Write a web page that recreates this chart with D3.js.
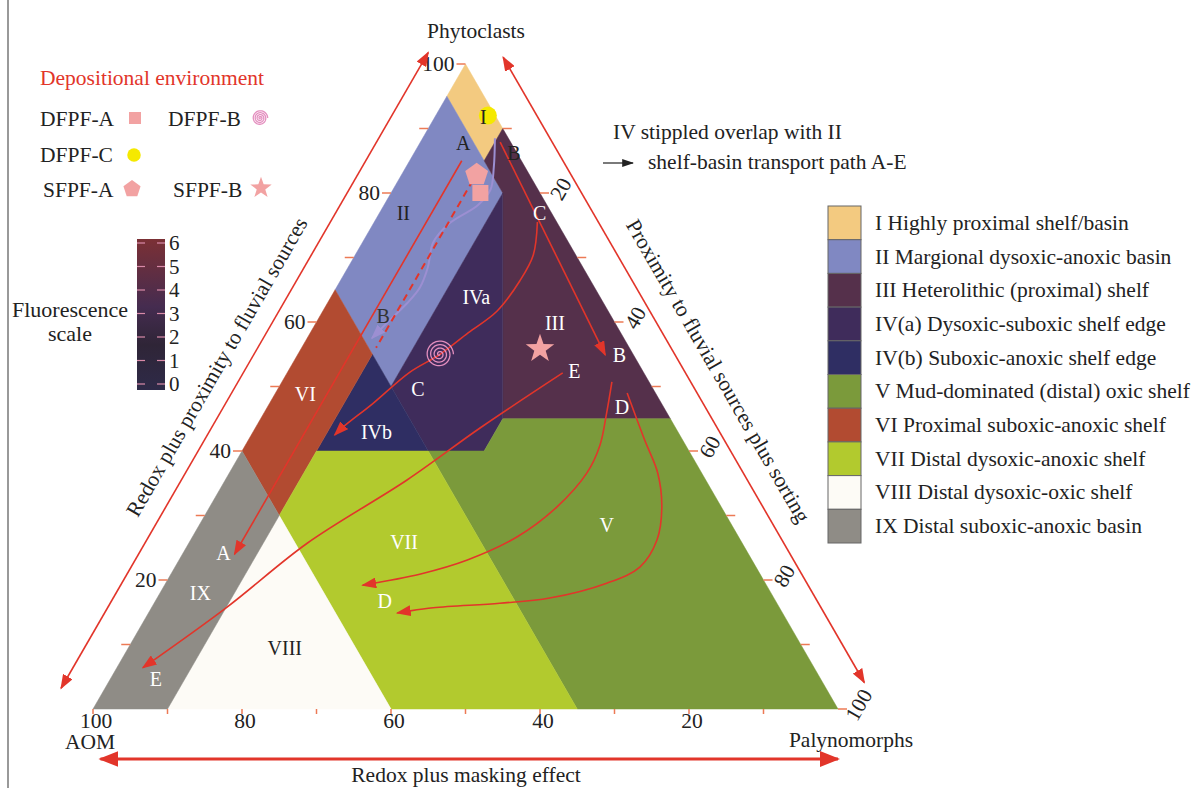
<!DOCTYPE html>
<html>
<head>
<meta charset="utf-8">
<script src="https://cdn.jsdelivr.net/npm/d3@7"></script>
<style>
body { margin: 0; background: #fff; }
svg text { font-family: "Liberation Serif", "Times New Roman", serif; }
</style>
</head>
<body>
<svg id="chart" width="1202" height="788"></svg>
<script>
// every ternary point is [AOM, Phytoclasts, Palynomorphs] in %
const zoneIds = ["I", "II", "III", "IVa", "IVb", "V", "VI", "VII", "VIII", "IX"];
const zoneColors = ["#f3ca80", "#8088c2", "#55304b", "#3f2c5b", "#2f2e63", "#7b9a3b", "#b24b31", "#b2ca2e", "#fdfbf6", "#8f8c86"];
const zonePolys = [
    [[0, 100, 0], [5, 95, 0], [5, 85, 10], [0, 90, 10]],
    [[5, 95, 0], [35, 65, 0], [35, 50, 15], [5, 80, 15]],
    [[0, 90, 10], [5, 85, 10], [5, 80, 15], [22.5, 45, 32.5], [0, 45, 55]],
    [[5, 80, 15], [35, 50, 15], [35, 40, 25], [27.5, 40, 32.5], [22.5, 45, 32.5]],
    [[35, 55, 10], [50, 40, 10], [35, 40, 25]],
    [[35, 40, 25], [27.5, 40, 32.5], [22.5, 45, 32.5], [0, 45, 55], [0, 0, 100], [35, 0, 65]],
    [[35, 65, 0], [60, 40, 0], [60, 30, 10], [35, 55, 10]],
    [[60, 30, 10], [50, 40, 10], [35, 40, 25], [35, 0, 65], [60, 0, 40]],
    [[60, 30, 10], [90, 0, 10], [60, 0, 40]],
    [[60, 40, 0], [100, 0, 0], [90, 0, 10], [60, 30, 10]]
];
const zoneLegend = [
    "I Highly proximal shelf/basin",
    "II Margional dysoxic-anoxic basin",
    "III Heterolithic (proximal) shelf",
    "IV(a) Dysoxic-suboxic shelf edge",
    "IV(b) Suboxic-anoxic shelf edge",
    "V Mud-dominated (distal) oxic shelf",
    "VI Proximal suboxic-anoxic shelf",
    "VII Distal dysoxic-anoxic shelf",
    "VIII Distal dysoxic-oxic shelf",
    "IX Distal suboxic-anoxic basin"
];

// in-field labels
const fieldLabels = [
    {t: "I", p: [1.8, 91.8, 6.5], c: "#222"},
    {t: "A", p: [6.5, 87.8, 5.8], c: "#222"},
    {t: "B", p: [0.4, 86.2, 13.4], c: "#222"},
    {t: "II", p: [19.9, 76.9, 3.2], c: "#222"},
    {t: "C", p: [1.6, 76.9, 21.5], c: "#fff"},
    {t: "IVa", p: [16.7, 63.9, 19.5], c: "#fff"},
    {t: "III", p: [8.1, 59.8, 32.1], c: "#fff"},
    {t: "B", p: [30.6, 60.9, 8.5], c: "#333"},
    {t: "B", p: [1.9, 54.9, 43.2], c: "#fff"},
    {t: "E", p: [9.2, 52.4, 38.4], c: "#fff"},
    {t: "D", p: [5.6, 46.8, 47.6], c: "#fff"},
    {t: "VI", p: [47.1, 48.8, 4.1], c: "#fff"},
    {t: "C", p: [31.6, 49.6, 18.8], c: "#fff"},
    {t: "IVb", p: [40.5, 42.9, 16.6], c: "#fff"},
    {t: "VII", p: [45.3, 25.9, 28.8], c: "#fff"},
    {t: "V", p: [16.7, 28.5, 54.7], c: "#fff"},
    {t: "A", p: [70.5, 24.2, 5.4], c: "#fff"},
    {t: "IX", p: [76.6, 18.0, 5.4], c: "#fff"},
    {t: "D", p: [52.5, 16.7, 30.8], c: "#fff"},
    {t: "VIII", p: [69.5, 9.5, 21.0], c: "#222"},
    {t: "E", p: [89.2, 4.7, 6.1], c: "#fff"}
];

// samples
const sampleNames = ["DFPF-A", "DFPF-B", "DFPF-C", "SFPF-A", "SFPF-B"];
const sampleShapes = ["square", "spiral", "circle", "pentagon", "star"];
const samplePos = [[8, 80, 12], [26, 55, 19], [1, 92, 7], [7, 83, 10], [12, 56, 32]];

// shelf-basin transport paths
const pathA = [[8, 85, 7], [69, 24, 7]];
const pathBdash = [[8, 82, 10], [34, 56, 10]];
const pathBlav = [[1.8, 88.5, 9.7], [4.2, 84.0, 11.8], [6.5, 80.5, 13.1], [9.3, 78.1, 12.6], [14.4, 75.3, 10.2],
    [18.2, 72.3, 9.5], [20.8, 68.5, 10.7], [23.4, 65.4, 11.2], [26.4, 62.9, 10.7], [30, 60.3, 9.7], [33.8, 57.5, 8.7]];
const pathB = [[1.4, 87.9, 10.7], [3.8, 54.9, 41.3]];
const pathC = [[2.6, 75.5, 21.9], [5.7, 70.4, 23.9], [9.5, 66.4, 24.1], [14.9, 61.7, 23.4], [20.5, 58.3, 21.2],
    [25.9, 55.0, 19.1], [31.3, 52.2, 16.4], [38.7, 47.4, 13.9], [44.6, 43.7, 11.7], [46.3, 42.5, 11.2]];
const pathD1 = [[5.0, 50.7, 44.3], [8.3, 45.6, 46.1], [11.5, 40.9, 47.6], [15.4, 36.6, 48.0], [22.1, 31.3, 46.6],
    [29.8, 26.7, 43.6], [38.2, 23.1, 38.7], [45.6, 20.9, 33.4], [54.1, 19.2, 26.6]];
const pathD2 = [[3.8, 49.0, 47.2], [5.1, 41.7, 53.2], [5.9, 36.6, 57.5], [8.0, 31.3, 60.7], [11.2, 26.2, 62.6],
    [15.6, 22.0, 62.4], [21.2, 19.5, 59.2], [30.0, 17.2, 52.7], [37.1, 16.4, 46.4], [46.5, 15.7, 37.8], [51.7, 14.9, 33.4]];
const pathE = [[10.9, 52.1, 37.0], [26.3, 43.6, 30.2], [40.1, 35.5, 24.4], [58.4, 25.7, 15.9], [74.1, 15.8, 10.1], [90.1, 6.4, 3.5]];

const tickValues = [10, 20, 30, 40, 50, 60, 70, 80, 90, 100];
const tickLabels = [20, 40, 60, 80, 100];
const fluoTicks = [0, 1, 2, 3, 4, 5, 6];

const red = "#e2352a";
const tickCol = "#ec7a55";
const pink = "#f2a2a2";
const fs = 21.5;

const svg = d3.select("#chart");
const xS = d3.scaleLinear().domain([0, 100]).range([93, 838]);
const yS = d3.scaleLinear().domain([0, 100]).range([709, 64]);
const pt = d => [xS(d[2] + d[1] / 2), yS(d[1])];

// markers
let defs = svg.append("defs");
function head(id, color, len, wid) {
    defs.append("marker").attr("id", id).attr("markerUnits", "userSpaceOnUse")
        .attr("viewBox", "0 0 10 10").attr("refX", 9).attr("refY", 5)
        .attr("markerWidth", len).attr("markerHeight", wid)
        .attr("orient", "auto-start-reverse").attr("preserveAspectRatio", "none")
        .append("path").attr("d", "M0,0 L10,5 L0,10 z").attr("fill", color);
}
head("rh", red, 15, 11);
head("lh", "#9c8fd2", 15, 11);
head("bh", red, 20, 16);
head("kh", "#222", 12, 8);

let grad = defs.append("linearGradient").attr("id", "fluo").attr("x1", 0).attr("y1", 1).attr("x2", 0).attr("y2", 0);
grad.append("stop").attr("offset", "0%").attr("stop-color", "#2e2a48");
grad.append("stop").attr("offset", "30%").attr("stop-color", "#2f2537");
grad.append("stop").attr("offset", "55%").attr("stop-color", "#452c50");
grad.append("stop").attr("offset", "100%").attr("stop-color", "#7b3035");

// frame
svg.append("line").attr("x1", 8).attr("x2", 8).attr("y1", 0).attr("y2", 788).attr("stroke", "#777").attr("stroke-width", 1.5);

// zones
svg.append("g").selectAll("path").data(zonePolys).join("path")
    .attr("d", d => "M" + d.map(pt).join("L") + "Z")
    .attr("fill", (d, i) => zoneColors[i])
    .attr("stroke", (d, i) => zoneColors[i]).attr("stroke-width", 0.5);

// axis ticks
let ax = svg.append("g");
tickValues.forEach(v => {
    let l = pt([100 - v, v, 0]);
    ax.append("line").attr("x1", l[0] - 9).attr("x2", l[0]).attr("y1", l[1]).attr("y2", l[1]).attr("stroke", tickCol).attr("stroke-width", 1.5);
    let b = pt([v, 0, 100 - v]);
    ax.append("line").attr("x1", b[0]).attr("x2", b[0]).attr("y1", b[1]).attr("y2", b[1] + 5).attr("stroke", tickCol).attr("stroke-width", 1.5);
    let r = pt([0, 100 - v, v]);
    ax.append("line").attr("x1", r[0]).attr("x2", r[0] + 9).attr("y1", r[1]).attr("y2", r[1]).attr("stroke", tickCol).attr("stroke-width", 1.5);
});
tickLabels.forEach(v => {
    let l = pt([100 - v, v, 0]);
    ax.append("text").attr("x", l[0] - 11).attr("y", l[1] + 7).attr("text-anchor", "end").attr("font-size", fs).attr("fill", "#222").text(v);
    let b = pt([v, 0, 100 - v]);
    ax.append("text").attr("x", b[0] + 3).attr("y", b[1] + 19).attr("text-anchor", "middle").attr("font-size", fs).attr("fill", "#222").text(v);
    let r = pt([0, 100 - v, v]);
    ax.append("text").attr("transform", "translate(" + (r[0] + 21) + "," + (r[1] - 4) + ") rotate(-60)")
        .attr("text-anchor", "middle").attr("dominant-baseline", "central").attr("font-size", fs).attr("fill", "#222").text(v);
});

// corner names and axis titles
svg.append("text").attr("x", 476).attr("y", 38).attr("text-anchor", "middle").attr("font-size", fs).attr("fill", "#222").text("Phytoclasts");
svg.append("text").attr("x", 90).attr("y", 749).attr("text-anchor", "middle").attr("font-size", fs).attr("fill", "#222").text("AOM");
svg.append("text").attr("x", 851).attr("y", 747).attr("text-anchor", "middle").attr("font-size", fs).attr("fill", "#222").text("Palynomorphs");
svg.append("text").attr("transform", "translate(217,367) rotate(-60)").attr("text-anchor", "middle").attr("dominant-baseline", "central")
    .attr("font-size", fs).attr("fill", "#222").text("Redox plus proximity to fluvial sources");
svg.append("text").attr("transform", "translate(718,371) rotate(60)").attr("text-anchor", "middle").attr("dominant-baseline", "central")
    .attr("font-size", fs).attr("fill", "#222").text("Proximity to fluvial sources plus sorting");
svg.append("text").attr("x", 466).attr("y", 782).attr("text-anchor", "middle").attr("font-size", fs).attr("fill", "#222").text("Redox plus masking effect");

// edge arrows (offset outside the triangle)
function edgeArrow(p0, p1, off, t0, t1) {
    let a = pt(p0), b = pt(p1);
    let dx = b[0] - a[0], dy = b[1] - a[1], len = Math.hypot(dx, dy);
    let ux = dx / len, uy = dy / len, nx = uy, ny = -ux;
    svg.append("line")
        .attr("x1", a[0] + ux * t0 + nx * off).attr("y1", a[1] + uy * t0 + ny * off)
        .attr("x2", a[0] + ux * t1 + nx * off).attr("y2", a[1] + uy * t1 + ny * off)
        .attr("stroke", red).attr("stroke-width", 1.6)
        .attr("marker-start", "url(#rh)").attr("marker-end", "url(#rh)");
}
edgeArrow([100, 0, 0], [0, 100, 0], 38, 2, 736);
edgeArrow([0, 100, 0], [0, 0, 100], 36, 13, 735);
svg.append("line").attr("x1", xS(1)).attr("x2", xS(100)).attr("y1", 759).attr("y2", 759)
    .attr("stroke", red).attr("stroke-width", 3).attr("marker-start", "url(#bh)").attr("marker-end", "url(#bh)");

// transport paths
const curve = d3.line().x(d => pt(d)[0]).y(d => pt(d)[1]).curve(d3.curveCatmullRom);
let paths = svg.append("g").attr("fill", "none");
paths.append("path").attr("d", curve(pathBlav)).attr("stroke", "#9c8fd2").attr("stroke-width", 2).attr("marker-end", "url(#lh)");
paths.append("path").attr("d", curve(pathBdash)).attr("stroke", red).attr("stroke-width", 2).attr("stroke-dasharray", "7,5");
[pathA, pathB, pathC, pathD1, pathD2, pathE].forEach(p => {
    paths.append("path").attr("d", curve(p)).attr("stroke", red).attr("stroke-width", 1.6).attr("marker-end", "url(#rh)");
});

// sample glyphs
function polyPts(cx, cy, R, n, r) {
    let out = [];
    let k = r ? 2 * n : n;
    for (let i = 0; i < k; i++) {
        let ang = -Math.PI / 2 + i * 2 * Math.PI / k;
        let rad = r && i % 2 ? r : R;
        out.push([cx + rad * Math.cos(ang), cy + rad * Math.sin(ang)]);
    }
    return "M" + out.join("L") + "Z";
}
function spiral(cx, cy, R, turns) {
    let out = [];
    let n = turns * 48;
    for (let i = 0; i <= n; i++) {
        let t = i / n, ang = t * turns * 2 * Math.PI;
        out.push([cx + R * t * Math.cos(ang), cy + R * t * Math.sin(ang)]);
    }
    return d3.line()(out);
}
function glyph(g, shape, c, s) {
    if (shape === "square") g.append("rect").attr("x", c[0] - 8 * s).attr("y", c[1] - 8 * s).attr("width", 16 * s).attr("height", 16 * s).attr("fill", pink);
    if (shape === "circle") g.append("circle").attr("cx", c[0]).attr("cy", c[1]).attr("r", 9 * s).attr("fill", "#f5e900");
    if (shape === "pentagon") g.append("path").attr("d", polyPts(c[0], c[1] + 1, 12 * s, 5)).attr("fill", pink);
    if (shape === "star") g.append("path").attr("d", polyPts(c[0], c[1] + 1, 15 * s, 5, 6 * s)).attr("fill", pink);
    if (shape === "spiral") g.append("path").attr("d", spiral(c[0], c[1], 14 * s, 4)).attr("fill", "none").attr("stroke", "#e48fbf").attr("stroke-width", 1.3);
}
let marks = svg.append("g");
samplePos.forEach((d, i) => glyph(marks, sampleShapes[i], pt(d), 1));

// field labels
svg.append("g").selectAll("text").data(fieldLabels).join("text")
    .attr("x", d => pt(d.p)[0]).attr("y", d => pt(d.p)[1])
    .attr("text-anchor", "middle").attr("dominant-baseline", "central")
    .attr("font-size", 20).attr("fill", d => d.c).text(d => d.t);

// sample legend
svg.append("text").attr("x", 40).attr("y", 85).attr("font-size", fs).attr("fill", red).text("Depositional environment");
const legX = [40, 168, 40, 43, 173];
const legY = [126, 126, 162, 197, 197];
const legG = [[135, 118], [260, 118], [134, 155], [132, 188], [261, 187]];
let sl = svg.append("g");
sampleNames.forEach((n, i) => {
    sl.append("text").attr("x", legX[i]).attr("y", legY[i]).attr("font-size", fs).attr("fill", "#222").text(n);
    glyph(sl, sampleShapes[i], legG[i], i === 1 ? 0.55 : 0.75);
});

// notes top right
svg.append("text").attr("x", 613).attr("y", 139).attr("font-size", fs).attr("fill", "#222").text("IV stippled overlap with II");
svg.append("line").attr("x1", 603).attr("x2", 633).attr("y1", 163).attr("y2", 163).attr("stroke", "#222").attr("stroke-width", 1.2).attr("marker-end", "url(#kh)");
svg.append("text").attr("x", 648).attr("y", 169).attr("font-size", fs).attr("fill", "#222").text("shelf-basin transport path A-E");

// zone legend
let zl = svg.append("g");
const boxY = d3.scaleBand().domain(zoneIds).range([206, 543]);
zoneIds.forEach((z, i) => {
    zl.append("rect").attr("x", 828).attr("y", boxY(z)).attr("width", 33).attr("height", boxY.bandwidth())
        .attr("fill", zoneColors[i]).attr("stroke", "#666").attr("stroke-width", 1);
    zl.append("text").attr("x", 875).attr("y", boxY(z) + boxY.bandwidth() / 2 + 7).attr("font-size", fs).attr("fill", "#222").text(zoneLegend[i]);
});

// fluorescence colour bar
const fy = d3.scaleLinear().domain([0, 6]).range([384, 243]);
let fb = svg.append("g");
fb.append("rect").attr("x", 137).attr("y", 239).attr("width", 28).attr("height", 151).attr("fill", "url(#fluo)");
fluoTicks.forEach(v => {
    fb.append("line").attr("x1", 137).attr("x2", 145).attr("y1", fy(v)).attr("y2", fy(v)).attr("stroke", "#d98aa8").attr("stroke-width", 1.2);
    fb.append("line").attr("x1", 157).attr("x2", 165).attr("y1", fy(v)).attr("y2", fy(v)).attr("stroke", "#d98aa8").attr("stroke-width", 1.2);
    fb.append("text").attr("x", 169).attr("y", fy(v) + 7).attr("font-size", 21).attr("fill", "#222").text(v);
});
svg.append("text").attr("x", 70).attr("y", 317).attr("text-anchor", "middle").attr("font-size", 22).attr("fill", "#222").text("Fluorescence");
svg.append("text").attr("x", 70).attr("y", 341).attr("text-anchor", "middle").attr("font-size", 22).attr("fill", "#222").text("scale");
</script>
</body>
</html>
